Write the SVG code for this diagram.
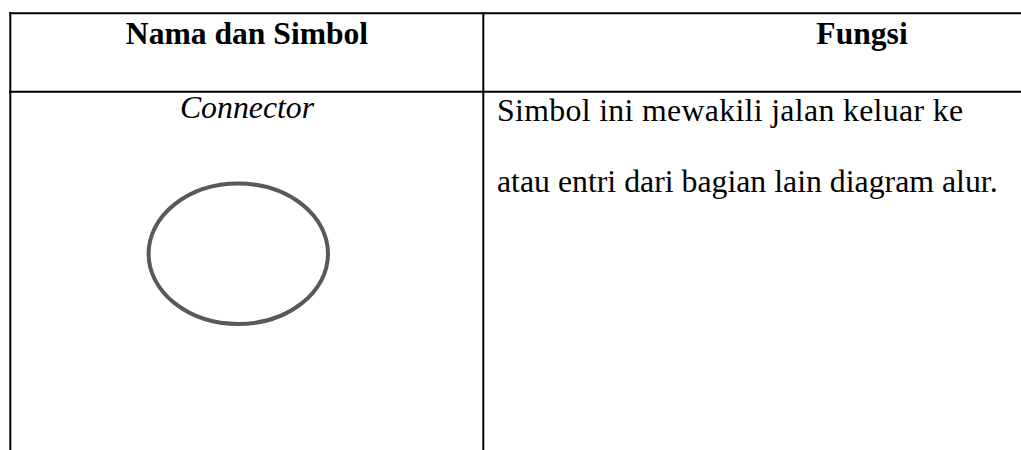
<svg xmlns="http://www.w3.org/2000/svg" width="1021" height="450" viewBox="0 0 1021 450">
<style>
.rule{stroke:#000;stroke-width:2;fill:none}
.hd{font-family:"Liberation Serif","Times New Roman",serif;font-weight:bold;font-size:31.6px;fill:#000}
.tx{font-family:"Liberation Serif","Times New Roman",serif;font-size:31.8px;fill:#000}
</style>
<rect width="1021" height="450" fill="#fff"/>
<g id="table-lines">
<line class="rule" x1="9" y1="13.3" x2="1021" y2="13.3"/>
<line class="rule" x1="9" y1="91.7" x2="1021" y2="91.7"/>
<line class="rule" x1="10.3" y1="12.3" x2="10.3" y2="450"/>
<line class="rule" x1="483.3" y1="12.3" x2="483.3" y2="450"/>
</g>
<g id="header">
<text class="hd" x="247" y="44" text-anchor="middle">Nama dan Simbol</text>
<text class="hd" x="862" y="44" text-anchor="middle">Fungsi</text>
</g>
<g id="connector-node">
<text class="tx" x="247" y="118" text-anchor="middle" font-style="italic">Connector</text>
<ellipse cx="238.3" cy="253.8" rx="89.7" ry="70.2" fill="none" stroke="#595959" stroke-width="4"/>
</g>
<g id="description">
<text class="tx" x="497" y="121" textLength="466" lengthAdjust="spacing">Simbol ini mewakili jalan keluar ke</text>
<text class="tx" x="497" y="192">atau entri dari bagian lain diagram alur.</text>
</g>
</svg>
